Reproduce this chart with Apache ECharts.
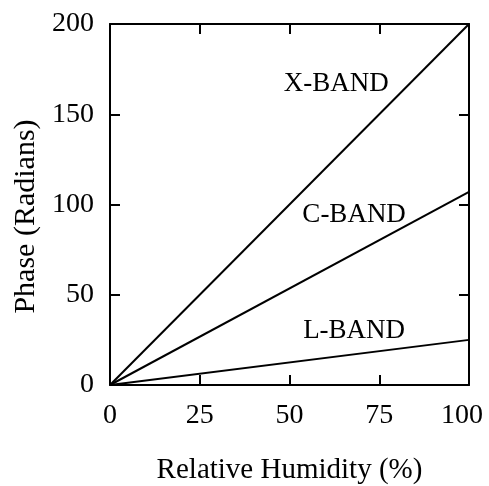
<!DOCTYPE html>
<html><head><meta charset="utf-8">
<script src="https://cdn.jsdelivr.net/npm/echarts@6/dist/echarts.min.js"></script>
<style>html,body{margin:0;padding:0;background:#fff}#c{width:489px;height:486px}</style>
</head><body><div id="c"></div>
<script>
const humidity = [0, 100];
const xBand = [0, 200];
const cBand = [0, 107];
const lBand = [0, 25];
const xTicks = [0, 25, 50, 75, 100];
const yTicks = [0, 50, 100, 150, 200];
const bandLabels = [
  {name: 'X-BAND', coord: [63, 167]},
  {name: 'C-BAND', coord: [68, 94]},
  {name: 'L-BAND', coord: [68, 30]}
];
const font = 'Liberation Serif';
const chart = echarts.init(document.getElementById('c'));
function mk(vals){ return humidity.map((h,i)=>[h, vals[i]]); }
const lineStyle = {color:'#000', width:2};
const axLine = {onZero:false, lineStyle:{color:'#000', width:2}};
const axTick = {inside:true, length:10, lineStyle:{color:'#000', width:2}};
function mp(i){
  return {symbol:'circle', symbolSize:1, silent:true, itemStyle:{color:'rgba(0,0,0,0)'},
    data:[{coord:bandLabels[i].coord, label:{show:true, position:'inside', formatter:bandLabels[i].name,
      fontFamily:font, fontSize:27, color:'#000'}}]};
}
const xMax = xTicks[xTicks.length-1];
chart.setOption({
  animation:false,
  grid:{left:110, right:20, top:24, bottom:101, outerBoundsMode:'none', containLabel:false},
  xAxis:[{type:'value', min:xTicks[0], max:xMax, interval:xTicks[1]-xTicks[0], position:'bottom',
    name:'Relative Humidity (%)', nameLocation:'middle', nameGap:71,
    nameTextStyle:{fontFamily:font, fontSize:29, color:'#000'},
    axisLine:axLine, axisTick:axTick,
    axisLabel:{fontFamily:font, fontSize:28, color:'#000', margin:17,
      formatter:v => v === xMax ? '{r|' + v + '}' : String(v),
      rich:{r:{fontFamily:font, fontSize:28, color:'#000', padding:[0,14,0,0]}}},
    splitLine:{show:false}},
   {type:'value', min:xTicks[0], max:xMax, interval:xTicks[1]-xTicks[0], position:'top',
    axisLine:axLine, axisTick:axTick,
    axisLabel:{show:false}, splitLine:{show:false}}],
  yAxis:[{type:'value', min:yTicks[0], max:yTicks[yTicks.length-1], interval:yTicks[1]-yTicks[0], position:'left',
    name:'Phase (Radians)', nameLocation:'middle', nameGap:69,
    nameTextStyle:{fontFamily:font, fontSize:30, color:'#000', padding:[0,24,0,0]},
    axisLine:axLine, axisTick:axTick,
    axisLabel:{fontFamily:font, fontSize:28, color:'#000', margin:16},
    splitLine:{show:false}},
   {type:'value', min:yTicks[0], max:yTicks[yTicks.length-1], interval:yTicks[1]-yTicks[0], position:'right',
    axisLine:axLine, axisTick:axTick,
    axisLabel:{show:false}, splitLine:{show:false}}],
  series:[
    {type:'line', data:mk(xBand), symbol:'none', lineStyle, markPoint:mp(0)},
    {type:'line', data:mk(cBand), symbol:'none', lineStyle, markPoint:mp(1)},
    {type:'line', data:mk(lBand), symbol:'none', lineStyle, markPoint:mp(2)}
  ]
});
</script></body></html>
